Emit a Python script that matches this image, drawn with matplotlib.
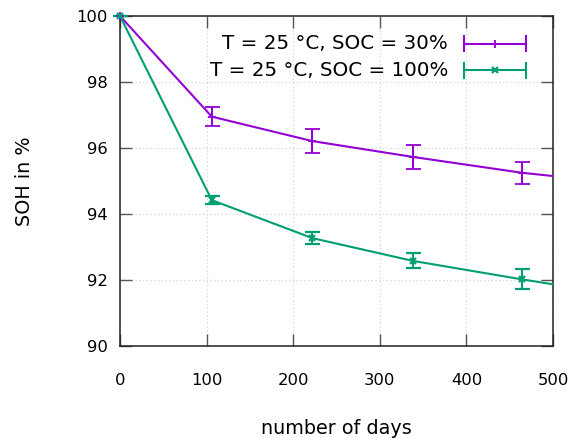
import matplotlib
matplotlib.use("Agg")
import matplotlib.pyplot as plt
from matplotlib.lines import Line2D

# Messdaten: Tage und SOH (%) mit Fehlerbalken
days = [0, 106, 222, 338, 464]
soh_30 = [100.0, 96.95, 96.21, 95.73, 95.25]
err_30 = [0.0, 0.28, 0.37, 0.36, 0.33]
soh_100 = [100.0, 94.42, 93.27, 92.58, 92.02]
err_100 = [0.0, 0.12, 0.17, 0.23, 0.30]

# Verlauf der Linie bis zum Rand bei 500 Tagen
line_days = days + [500]
line_30 = soh_30 + [95.15]
line_100 = soh_100 + [91.87]

labels = ["T = 25 °C, SOC = 30%", "T = 25 °C, SOC = 100%"]
purple = "#9400d3"
green = "#009e73"

plt.rcParams['font.family'] = ['DejaVu Sans']

fig = plt.figure(figsize=(5.73, 4.38), dpi=100)
ax = fig.add_axes([120 / 573, 92 / 438, 433 / 573, 330 / 438])

ax.set_xlim(0, 500)
ax.set_ylim(90, 100)
ax.set_xticks(range(0, 501, 100))
ax.set_yticks(range(90, 101, 2))
ax.grid(True, color="#d4d4d4", linestyle=(0, (1, 2)), linewidth=0.9)
ax.set_axisbelow(True)

for sp in ax.spines.values():
    sp.set_linewidth(1.1)
    sp.set_color("#222222")

ax.tick_params(direction="in", length=8.5, width=1.0, color="#555555",
               top=True, right=True, labelsize=11.8)
ax.tick_params(axis="x", pad=19.5)
ax.tick_params(axis="y", pad=9)

# Linien
ax.plot(line_days, line_30, color=purple, lw=1.5, zorder=3)
ax.plot(line_days, line_100, color=green, lw=1.5, zorder=3)

# Messpunkte mit Fehlerbalken
ax.errorbar(days, soh_30, yerr=err_30, fmt="+", color=purple, ms=6, mew=1.3,
            elinewidth=1.5, capsize=5.4, capthick=1.5, zorder=4, clip_on=False)
ax.errorbar(days, soh_100, yerr=err_100, fmt="x", color=green, ms=5, mew=1.6,
            elinewidth=1.5, capsize=5.4, capthick=1.5, zorder=4, clip_on=False)

ax.set_xlabel("number of days", fontsize=13.8, labelpad=22)
ax.set_ylabel("SOH in %", fontsize=13.8, labelpad=30)

# Legende im gnuplot-Stil: Text rechtsbündig, Beispiel-Linie mit Endkappen
tr = ax.transAxes
for i, (lab, col, mk) in enumerate(zip(labels, [purple, green], ["+", "x"])):
    yl = (346 - (43.5 + i * 26.5)) / 330
    ax.text((448 - 120) / 433, yl, lab, transform=tr, ha="right", va="center",
            fontsize=14.3)
    x0, x1 = (463.5 - 120) / 433, (525.5 - 120) / 433
    ax.add_line(Line2D([x0, x1], [yl, yl], transform=tr, color=col, lw=1.5))
    cap = 7.5 / 330
    for xc in (x0, x1):
        ax.add_line(Line2D([xc, xc], [yl - cap, yl + cap], transform=tr,
                           color=col, lw=1.5))
    ax.add_line(Line2D([(x0 + x1) / 2], [yl], transform=tr, color=col,
                       marker=mk, ms=5 if mk == "x" else 6,
                       mew=1.6 if mk == "x" else 1.3, linestyle="none"))

fig.savefig("out.png", dpi=100)
